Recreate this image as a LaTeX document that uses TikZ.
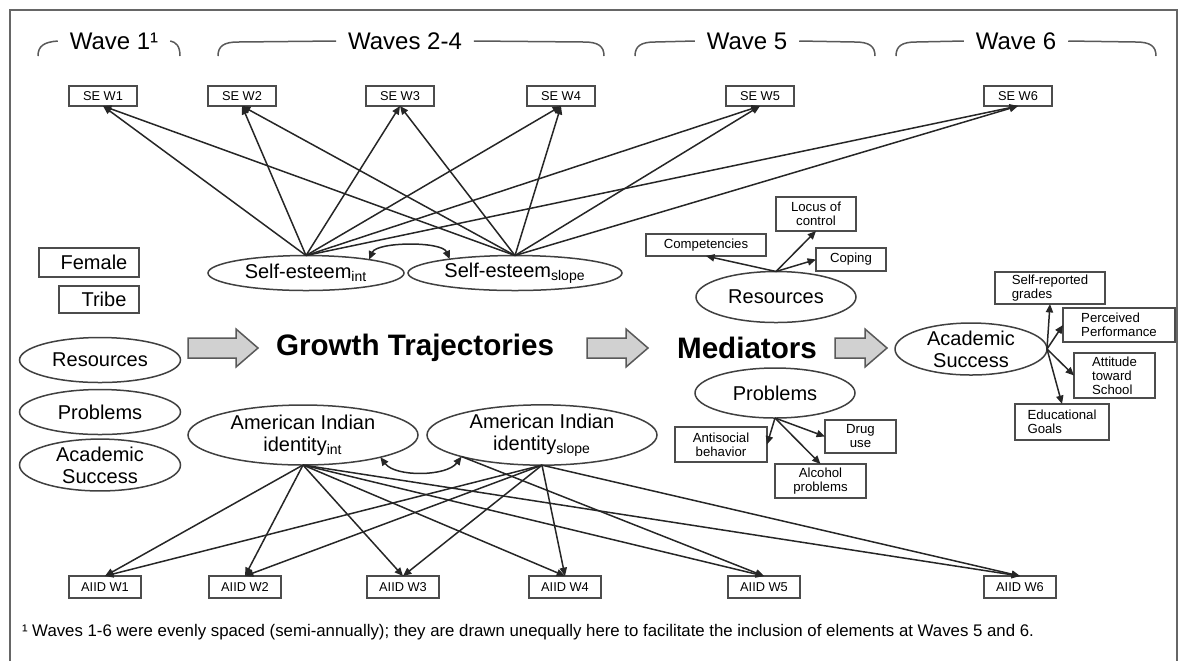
\documentclass[tikz,border=0pt]{standalone}
\usepackage{fontspec}
\setmainfont{Liberation Sans}
\usetikzlibrary{shapes.geometric,arrows.meta}

\begin{document}
\begin{tikzpicture}[x=0.5pt,y=-0.5pt,
  every node/.style={inner sep=0pt,outer sep=0pt},
  obs/.style={draw=black!70,line width=0.75pt,fill=white,minimum width=34pt,minimum height=10pt,
    font=\fontsize{6.4}{7}\selectfont},
  ind/.style={draw=black!70,line width=0.75pt,fill=white,align=center,
    font=\fontsize{6.6}{7}\selectfont},
  indl/.style={ind,align=left},
  lat/.style={ellipse,draw=black!75,line width=0.75pt,fill=white,align=center,
    font=\fontsize{10}{11}\selectfont},
  covbox/.style={draw=black!70,line width=0.75pt,fill=white,font=\fontsize{10}{11}\selectfont},
  wavelabel/.style={inner xsep=6pt,font=\fontsize{12}{13}\selectfont},
  bigtitle/.style={font=\fontsize{14.8}{16}\selectfont\bfseries},
  link/.style={draw=black!85,line width=0.75pt,-{Triangle[length=4.2pt,width=3.6pt]}},
  dlink/.style={draw=black!85,line width=0.75pt,{Triangle[length=4.2pt,width=3.6pt]}-{Triangle[length=4.2pt,width=3.6pt]}},
  bracket/.style={draw=black!65,line width=0.75pt},
  bigarrow/.style={fill=black!18,draw=black!65,line width=0.75pt},
  frameline/.style={draw=black!60,line width=0.8pt}
]
\useasboundingbox (0,0) rectangle (1183,661);

% outer frame
\draw[frameline] (10,661) -- (10,10) -- (1177,10) -- (1177,661);

% wave headings with their brackets
\node[wavelabel] (w1) at (114,41) {Wave 1¹};
\node[wavelabel] (w24) at (405,41) {Waves 2-4};
\node[wavelabel] (w5) at (747,41) {Wave 5};
\node[wavelabel] (w6) at (1016,41) {Wave 6};
\draw[bracket] (38,56) .. controls (38,46) and (44,42) .. (w1.west);
\draw[bracket] (w1.east) .. controls (176,42) and (180,46) .. (180,56);
\foreach \lab/\xl/\xr in {w24/218/604, w5/635/875, w6/896/1156}{
  \draw[bracket] (\xl,56) .. controls (\xl,46) and ({\xl+6},42) .. ({\xl+20},42) -- (\lab.west);
  \draw[bracket] (\lab.east) -- ({\xr-20},42) .. controls ({\xr-6},42) and (\xr,46) .. (\xr,56);
}

% self-esteem indicators
\foreach \i/\x in {1/103,2/242,3/400,4/561,5/760,6/1018}
  \node[obs] (se\i) at (\x,96) {SE W\i};

% American Indian identity indicators
\foreach \i/\x in {1/105,2/245,3/403,4/565,5/764,6/1020}
  \node[obs,minimum width=36pt,minimum height=11pt] (aiid\i) at (\x,587) {AIID W\i};

% growth factors
\node[lat,minimum width=98pt,minimum height=17.5pt] (sei) at (306,273) {Self-esteem\textsubscript{int}};
\node[lat,minimum width=107pt,minimum height=17.5pt] (ses) at (515,273) {Self-esteem\textsubscript{slope}};
\node[lat,minimum width=115pt,minimum height=30pt] (aii) at (303,435) {American Indian\\identity\textsubscript{int}};
\node[lat,minimum width=115pt,minimum height=30pt] (ais) at (542,435) {American Indian\\identity\textsubscript{slope}};

% covariates
\node[covbox,minimum width=50pt,minimum height=14.5pt] (fem) at (89,262.5) {\hspace{5pt}Female};
\node[covbox,minimum width=40pt,minimum height=13.5pt] (tribe) at (99,299.5) {\hspace{5pt}Tribe};
\node[lat,minimum width=80.5pt,minimum height=22.5pt] (cres) at (100,360) {Resources};
\node[lat,minimum width=80.5pt,minimum height=22.5pt] (cprob) at (100,412) {Problems};
\node[lat,minimum width=80.5pt,minimum height=22.5pt] (cacad) at (100,465) {Academic\\Success};

% block arrows and section titles
\foreach \xa/\xb in {188/258, 587/648, 835/887}
  \filldraw[bigarrow] (\xa,338) -- ({\xb-22},338) -- ({\xb-22},329) -- (\xb,348)
    -- ({\xb-22},367) -- ({\xb-22},358) -- (\xa,358) -- cycle;
\node[bigtitle] (gt) at (415,348) {Growth Trajectories};
\node[bigtitle] (med) at (747,348) {Mediators};

% mediators: resources
\node[lat,minimum width=80pt,minimum height=25.5pt] (mres) at (776,297) {Resources};
\node[ind,minimum width=60pt,minimum height=11pt] (comp) at (706,245) {Competencies};
\node[ind,minimum width=40pt,minimum height=17pt] (locus) at (816,214) {Locus of\\control};
\node[ind,minimum width=35pt,minimum height=11.5pt] (coping) at (851,259.5) {Coping};
\draw[link] (mres.north) -- (comp.south);
\draw[link] (mres.north) -- (locus.south);
\draw[link] (mres.north) -- (coping.west);

% mediators: problems
\node[lat,minimum width=80pt,minimum height=25pt] (mprob) at (775,393) {Problems};
\node[ind,minimum width=46pt,minimum height=17.5pt] (anti) at (721,444.5) {Antisocial\\behavior};
\node[ind,minimum width=35.5pt,minimum height=16.5pt] (drug) at (860.5,436.5) {Drug\\use};
\node[ind,minimum width=45.5pt,minimum height=17pt] (alc) at (820.5,481) {Alcohol\\problems};
\draw[link] (mprob.south) -- (anti.east);
\draw[link] (mprob.south) -- (drug.west);
\draw[link] (mprob.south) -- (alc.north);

% outcome: academic success
\node[lat,minimum width=76pt,minimum height=26pt] (acad) at (971,349) {Academic\\Success};
\node[indl,minimum width=55pt,minimum height=16pt] (grades) at (1050,288) {Self-reported\\grades};
\node[indl,minimum width=56pt,minimum height=17pt] (perc) at (1119,325) {Perceived\\Performance};
\node[indl,minimum width=40.5pt,minimum height=22.5pt] (att) at (1114.5,375.5) {Attitude\\toward\\School};
\node[indl,minimum width=47pt,minimum height=18pt] (goals) at (1062,422) {Educational\\Goals};
\draw[link] (acad.east) -- (grades.south);
\draw[link] (acad.east) -- (perc.west);
\draw[link] (acad.east) -- (att.west);
\draw[link] (acad.east) -- (goals.north);

% factor loadings
\foreach \i in {1,...,6}{
  \draw[link] (sei.north) -- (se\i.south);
  \draw[link] (ses.north) -- (se\i.south);
  \draw[link] (aii.south) -- (aiid\i.north);
}
\foreach \i in {1,2,3,4,6}
  \draw[link] (ais.south) -- (aiid\i.north);
\draw[link] (ais.195) -- (aiid5.north);

% factor covariances
\draw[dlink] (sei.12) .. controls +(8,-18) and +(-8,-18) .. (ses.168);
\draw[dlink] (aii.-16) .. controls +(15,20) and +(-15,20) .. (ais.195);

% footnote
\node[anchor=west,font=\fontsize{8.4}{9}\selectfont] (note) at (22,632)
  {¹ Waves 1-6 were evenly spaced (semi-annually); they are drawn unequally here to facilitate the inclusion of elements at Waves 5 and 6.};
\end{tikzpicture}
\end{document}
